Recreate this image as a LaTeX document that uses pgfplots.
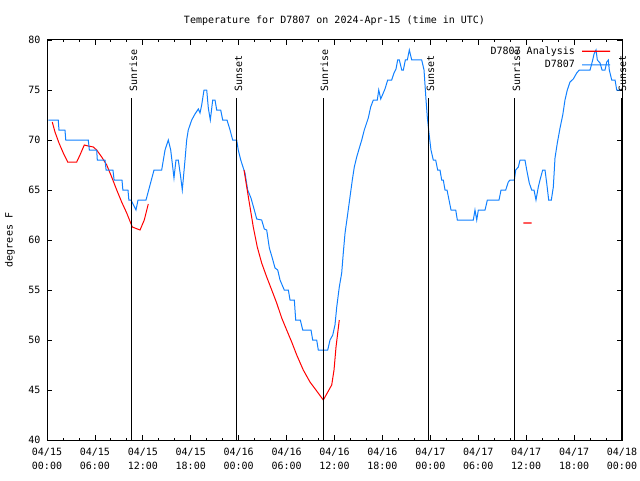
\documentclass[border=0pt]{standalone}
\usepackage{pgfplots}
\pgfplotsset{compat=1.18}
\usepackage{fontspec}
\setmainfont{DejaVu Sans Mono}
\definecolor{obsblue}{RGB}{16,128,255}
\definecolor{anared}{RGB}{255,0,0}
\begin{document}
\begin{tikzpicture}[font=\fontsize{10}{12}\selectfont]
\begin{axis}[
  scale only axis, width=575pt, height=400pt,
  xmin=0, xmax=72, ymin=40, ymax=80,
  xtick={0,6,...,72},
  xticklabels={{04/15\\00:00},{04/15\\06:00},{04/15\\12:00},{04/15\\18:00},{04/16\\00:00},{04/16\\06:00},{04/16\\12:00},{04/16\\18:00},{04/17\\00:00},{04/17\\06:00},{04/17\\12:00},{04/17\\18:00},{04/18\\00:00}},
  xticklabel style={align=center, font=\fontsize{10}{14}\selectfont, yshift=-5pt},
  yticklabel style={xshift=-3pt},
  minor x tick num=2,
  ytick={40,45,...,80},
  tick align=inside,
  major tick length=5pt, minor tick length=2.5pt,
  every tick/.style={black, line width=0.8pt},
  axis line style={line width=1pt},
  /pgf/number format/assume math mode=true,
  title={Temperature for D7807 on 2024-Apr-15 (time in UTC)},
  title style={at={(0.5,1)}, anchor=base, yshift=10pt},
  ylabel={degrees F},
  ylabel style={at={([xshift=-37pt]rel axis cs:0,0.5)}, anchor=center, rotate=0},
  clip mode=individual,
  legend plot pos=right,
  legend cell align=right,
  legend style={at={(1,1)}, anchor=north east, xshift=-8pt, yshift=-3pt, draw=none, fill=none, row sep=1.5pt, column sep=5pt, nodes={inner sep=1.5pt}},
  legend image code/.code={\draw[mark repeat=2,mark phase=2,#1] plot coordinates {(0pt,0pt) (14pt,0.01pt) (28pt,0pt)};},
]
\addlegendimage{anared, line width=1.4pt}
\addlegendentry{D7807 Analysis}
\addlegendimage{obsblue, line width=1pt}
\addlegendentry{D7807}
% Analysis (red), segment 1
\addplot[anared, line width=1pt, forget plot] coordinates {
(0.66,71.8) (1.00,70.8) (1.50,69.7) (2.04,68.7) (2.59,67.8) (3.72,67.8) (4.13,68.5) (4.67,69.5) (5.17,69.4) (5.80,69.3) (6.22,69.0) (6.85,68.3) (7.48,67.5) (8.10,66.3) (8.73,65.0) (9.35,63.8) (9.98,62.7) (10.68,61.3) (11.65,61.0) (12.18,62.0) (12.68,63.6)
};
% Observations (blue)
\addplot[obsblue, line width=1pt, forget plot] coordinates {
(0.16,72) (1.41,72) (1.50,71) (2.25,71) (2.35,70) (5.17,70) (5.30,69) (6.22,69) (6.30,68) (7.26,68) (7.40,67) (8.26,67) (8.40,66) (9.39,66) (9.50,65) (10.14,65) (10.25,64) (10.52,64) (11.14,63) (11.40,64) (12.40,64) (12.90,65.5) (13.40,67) (14.36,67) (14.78,69) (15.19,70) (15.49,69) (15.74,67.3) (15.90,66.2) (16.15,68) (16.44,68) (16.74,66.3) (16.94,65) (17.28,68) (17.49,70) (17.69,71) (18.12,72) (18.53,72.6) (18.95,73.1) (19.16,72.7) (19.37,73.5) (19.66,75) (20.00,75) (20.20,73.2) (20.45,72) (20.75,74) (21.04,74) (21.25,73) (21.75,73) (22.00,72) (22.54,72) (22.92,71) (23.25,70) (23.75,70) (23.95,69) (24.26,68) (24.58,67.2) (24.79,66.7) (25.13,65) (25.54,64.2) (25.96,63) (26.26,62.1) (26.88,62) (27.21,61.1) (27.51,61) (27.84,59.2) (28.21,58.2) (28.55,57.2) (28.89,57) (29.18,56) (29.71,55) (30.22,55) (30.43,54) (30.97,54) (31.14,52) (31.72,52) (32.02,51) (33.06,51) (33.27,50) (33.77,50) (33.97,49) (35.15,49) (35.44,50) (35.78,50.5) (36.06,51.5) (36.28,53.3) (36.60,55.3) (36.90,56.7) (37.10,58.7) (37.32,60.7) (37.60,62.3) (37.94,64.3) (38.23,66) (38.48,67.3) (38.78,68.3) (39.11,69.2) (39.41,70) (39.73,71) (40.23,72.2) (40.53,73.3) (40.86,74) (41.36,74) (41.54,75) (41.79,74.1) (42.32,75.1) (42.66,76) (43.16,76) (43.45,76.7) (43.70,77.1) (43.91,78) (44.12,78) (44.42,77) (44.62,77) (44.87,78) (45.12,78) (45.37,79) (45.67,78) (46.92,78) (47.21,77) (47.46,74) (47.62,72.3) (47.83,70.7) (48.08,69) (48.37,68) (48.67,68) (48.92,67) (49.21,67) (49.42,66) (49.62,66) (49.84,65) (50.09,65) (50.34,64) (50.59,63) (51.18,63) (51.38,62) (53.38,62) (53.59,63) (53.81,62) (54.01,63) (54.85,63) (55.14,64) (56.60,64) (56.85,65) (57.44,65) (57.76,65.8) (57.98,66) (58.52,66) (58.69,67) (59.02,67.3) (59.23,68) (59.85,68) (60.07,67) (60.39,65.7) (60.69,65) (60.98,65) (61.23,64) (61.52,65.3) (61.73,66) (62.07,67) (62.36,67) (62.57,65.7) (62.82,64) (63.15,64) (63.40,65.3) (63.61,68.2) (63.90,69.7) (64.24,71.2) (64.58,72.5) (64.86,74) (65.15,75) (65.49,75.8) (65.90,76.1) (66.33,76.7) (66.65,77) (68.00,77) (68.33,78) (68.50,78.6) (68.75,79) (68.91,78) (69.25,77.7) (69.50,77) (69.87,77) (70.09,77.8) (70.29,78) (70.41,77) (70.71,76) (71.13,76) (71.34,75) (71.75,75)
};
% Analysis (red), segments 2 and 3
\addplot[anared, line width=1pt, forget plot] coordinates {
(24.67,67) (25.01,65.3) (25.42,63.3) (25.83,61.3) (26.33,59.3) (26.88,57.7) (27.51,56.3) (28.14,55) (28.76,53.7) (29.39,52.2) (30.01,51) (30.64,49.8) (31.27,48.5) (32.09,47) (32.93,45.8) (33.77,44.9) (34.60,44) (35.65,45.5) (35.94,47) (36.19,49.3) (36.60,52)
};
\addplot[anared, line width=1.4pt, forget plot] coordinates {(59.64,61.7) (60.15,61.701) (60.69,61.7)};
% Sunrise / sunset markers
\addplot[black, line width=1pt, forget plot] coordinates {(10.64,40) (10.64,74.2)};
\addplot[black, line width=1pt, forget plot] coordinates {(23.79,40) (23.79,74.2)};
\addplot[black, line width=1pt, forget plot] coordinates {(34.56,40) (34.56,74.2)};
\addplot[black, line width=1pt, forget plot] coordinates {(47.83,40) (47.83,74.2)};
\addplot[black, line width=1pt, forget plot] coordinates {(58.60,40) (58.60,74.2)};
\addplot[black, line width=1pt, forget plot] coordinates {(71.88,40) (71.88,74.2)};
\node[rotate=90, anchor=west, inner sep=0pt] at ([xshift=1.5pt]axis cs:10.64,74.8) {Sunrise};
\node[rotate=90, anchor=west, inner sep=0pt] at ([xshift=1.5pt]axis cs:23.79,74.8) {Sunset};
\node[rotate=90, anchor=west, inner sep=0pt] at ([xshift=1.5pt]axis cs:34.56,74.8) {Sunrise};
\node[rotate=90, anchor=west, inner sep=0pt] at ([xshift=1.5pt]axis cs:47.83,74.8) {Sunset};
\node[rotate=90, anchor=west, inner sep=0pt] at ([xshift=1.5pt]axis cs:58.60,74.8) {Sunrise};
\node[rotate=90, anchor=west, inner sep=0pt] at ([xshift=1.5pt]axis cs:71.88,74.8) {Sunset};
\coordinate (bl) at (rel axis cs:0,0);
\coordinate (tr) at (rel axis cs:1,1);
\end{axis}
\pgfresetboundingbox
\path[use as bounding box] ([xshift=-47pt,yshift=-40pt]bl) rectangle ([xshift=18pt,yshift=40pt]tr);
\end{tikzpicture}
\end{document}
